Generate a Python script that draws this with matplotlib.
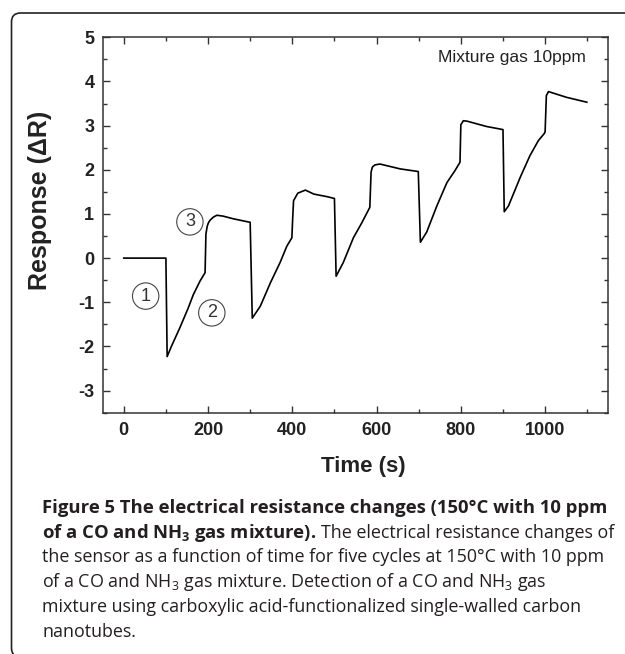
import matplotlib.pyplot as plt
import numpy as np
from matplotlib.patches import FancyBboxPatch
from matplotlib.transforms import IdentityTransform

plt.rcParams['font.family'] = ['Liberation Sans', 'DejaVu Sans']
plt.rcParams['mathtext.default'] = 'regular'
plt.rcParams['axes.unicode_minus'] = False

# sensor response
time_s = [0, 100, 103, 113, 133, 153, 165, 181, 193, 195, 198, 201, 205, 213, 221, 236, 260, 300,
          305, 324, 348, 371, 387, 399, 401, 403, 413, 431, 451, 483, 500,
          504, 521, 545, 565, 584, 587, 590, 596, 608, 656, 699,
          704, 719, 743, 767, 786, 798, 800, 806, 815, 861, 900,
          903, 913, 941, 964, 984, 998, 1000, 1003, 1008, 1051, 1099]
response = [0, 0, -2.23, -2.0, -1.58, -1.13, -0.83, -0.52, -0.33, 0.54, 0.72, 0.80, 0.86, 0.93, 0.97, 0.95, 0.89, 0.81,
            -1.36, -1.09, -0.56, -0.10, 0.27, 0.46, 0.92, 1.30, 1.47, 1.54, 1.45, 1.39, 1.35,
            -0.41, -0.10, 0.46, 0.80, 1.15, 1.95, 2.06, 2.11, 2.13, 2.02, 1.96,
            0.36, 0.59, 1.18, 1.71, 1.98, 2.17, 3.02, 3.11, 3.10, 2.98, 2.91,
            1.05, 1.18, 1.83, 2.32, 2.66, 2.82, 2.86, 3.68, 3.77, 3.64, 3.53]

step_labels = ['1', '2', '3']
step_t = [52, 209, 157]
step_v = [-0.86, -1.24, 0.82]

fig = plt.figure(figsize=(6.25, 6.54), dpi=100)
ax = fig.add_axes([0.1643, 0.369, 0.809, 0.574])

ax.plot(time_s, response, color='black', lw=1.2)

for lab, tx, vy in zip(step_labels, step_t, step_v):
    ax.text(tx, vy, lab, ha='center', va='center', fontsize=13, color='#333333',
            bbox=dict(boxstyle='circle,pad=0.26', fc='none', ec='#444444', lw=0.8))

ax.text(0.955, 0.965, 'Mixture gas 10ppm', transform=ax.transAxes, ha='right', va='top',
        fontsize=12.5, color='#222222')

ax.set_xlim(-50, 1150)
ax.set_ylim(-3.5, 5)
ax.set_xticks(np.arange(0, 1001, 200))
ax.set_xticks(np.arange(100, 1101, 200), minor=True)
ax.set_yticks(np.arange(-3, 6, 1))
ax.set_yticks(np.arange(-3.5, 5, 1), minor=True)
ax.tick_params(which='both', direction='in', top=True, right=True, color='#333333', width=1)
ax.tick_params(which='major', length=5, labelsize=13, labelcolor='#222222')
ax.tick_params(axis='x', which='major', pad=7)
ax.tick_params(axis='y', which='major', pad=6)
ax.tick_params(which='minor', length=2.6)
for lab in ax.get_xticklabels() + ax.get_yticklabels():
    lab.set_fontweight('bold')
for sp in ax.spines.values():
    sp.set_color('#333333')
    sp.set_linewidth(1.1)

ax.set_xlabel('Time (s)', fontsize=16, fontweight='bold', color='#222222')
ax.xaxis.set_label_coords(0.515, -0.115)
fig.text(40 / 625, 1 - 200 / 654, 'Response (ΔR)', rotation=90, ha='center', va='center',
         fontsize=18, fontweight='bold', color='#222222')

# outer frame
frame = FancyBboxPatch((11.5, -3), 700, 644, boxstyle='round,pad=0,rounding_size=9',
                       transform=IdentityTransform(), fc='none', ec='#222222', lw=1.2)
fig.add_artist(frame)

# caption
cap_font = ['Open Sans', 'DejaVu Sans']
x0 = 42 / 625
base = [513, 538, 562, 587, 612, 637]
fs_b = 13.3
fs = 12.9
fig.text(x0, 1 - base[0] / 654, 'Figure 5 The electrical resistance changes (150°C with 10 ppm',
         family=cap_font, fontweight='bold', fontsize=fs_b, va='baseline', color='#231f20')
t_bold = fig.text(x0, 1 - base[1] / 654, 'of a CO and NH$_3$ gas mixture).',
                  family=cap_font, fontweight='bold', fontsize=fs_b, va='baseline', color='#231f20')
fig.canvas.draw()
bb = t_bold.get_window_extent(fig.canvas.get_renderer())
fig.text(bb.x1 / fig.bbox.width + 0.008, 1 - base[1] / 654, 'The electrical resistance changes of',
         family=cap_font, fontsize=fs, va='baseline', color='#231f20')
rest = ['the sensor as a function of time for five cycles at 150°C with 10 ppm',
        'of a CO and NH$_3$ gas mixture. Detection of a CO and NH$_3$ gas',
        'mixture using carboxylic acid-functionalized single-walled carbon',
        'nanotubes.']
for line, b in zip(rest, base[2:]):
    fig.text(x0, 1 - b / 654, line, family=cap_font, fontsize=fs, va='baseline', color='#231f20')

fig.savefig('out.png', dpi=100)
